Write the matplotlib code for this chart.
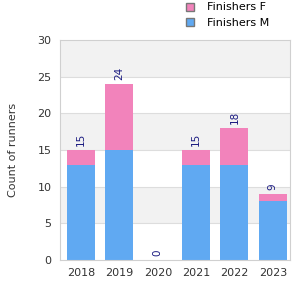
import numpy as np
import matplotlib
matplotlib.use('Agg')
from matplotlib import pyplot as plt
from matplotlib.patches import Patch

years = ['2018', '2019', '2020', '2021', '2022', '2023']
finishers_m = [13, 15, 0, 13, 13, 8]
finishers_f = [2, 9, 0, 2, 5, 1]

col_m = '#60a9f2'
col_f = '#f283bb'

fig = plt.figure(figsize=(3, 3), dpi=100)
ax = fig.add_axes([0.2, 0.133, 0.767, 0.734])

x = np.arange(len(years))
m = np.array(finishers_m)
f = np.array(finishers_f)
tot = m + f

# alternating bands
for lo in range(0, 30, 5):
    if (lo // 5) % 2 == 1:
        ax.axhspan(lo, lo + 5, color='#f2f2f2', zorder=0, lw=0)
for y in range(5, 30, 5):
    ax.axhline(y, color='#dddddd', lw=0.8, zorder=0.5)

ax.bar(x, m, width=0.73, color=col_m, zorder=2)
ax.bar(x, f, bottom=m, width=0.73, color=col_f, zorder=2)

for xi, t in zip(x, tot):
    ax.text(xi, t + 0.6, str(t), rotation=90, ha='center', va='bottom',
            fontsize=7.5, color='#1a1a80')

ax.set_xlim(-0.55, 5.45)
ax.set_ylim(0, 30)
ax.set_yticks(range(0, 31, 5))
ax.set_xticks(x)
ax.set_xticklabels(years)
ax.tick_params(axis='both', length=0, labelsize=8, colors='#333333')
ax.tick_params(axis='x', pad=6)
ax.tick_params(axis='y', pad=6)
for s in ax.spines.values():
    s.set_color('#d0d0d0')
    s.set_linewidth(0.8)
ax.set_ylabel('Count of runners', fontsize=8, color='#333333', labelpad=14)

handles = [Patch(facecolor=col_f, edgecolor='#777777', label='Finishers F'),
           Patch(facecolor=col_m, edgecolor='#777777', label='Finishers M')]
fig.legend(handles=handles, loc='upper left', bbox_to_anchor=(0.585, 1.025),
           frameon=False, fontsize=8, handlelength=0.75, handleheight=0.75,
           labelspacing=0.45, handletextpad=1.2)

fig.savefig('out.png', dpi=100)
